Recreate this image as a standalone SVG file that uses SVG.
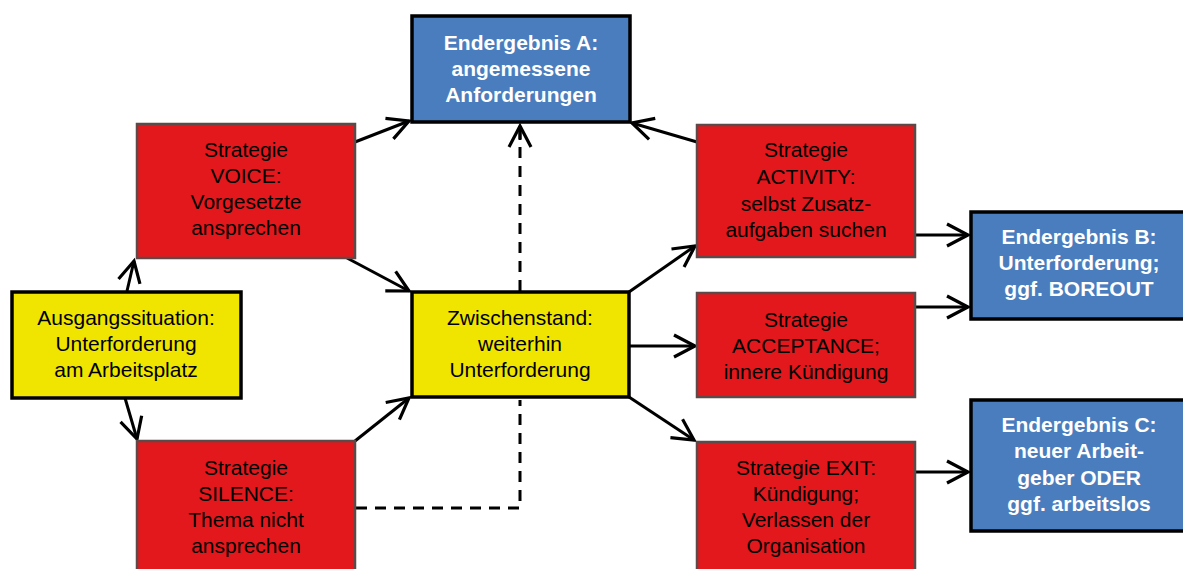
<svg xmlns="http://www.w3.org/2000/svg" width="1183" height="569" viewBox="0 0 1183 569">
<defs>
<style>
.red{fill:#e3181c;stroke:#5e4848;stroke-width:2.5}
.yel{fill:#f0e500;stroke:#000;stroke-width:3.5}
.blu{fill:#4a7dbd;stroke:#000;stroke-width:3.5}
.t{font-family:"Liberation Sans",Arial,sans-serif;font-size:21px;text-anchor:middle;fill:#000}
.tb{font-family:"Liberation Sans",Arial,sans-serif;font-size:21px;font-weight:bold;text-anchor:middle;fill:#fff}
.c{fill:none;stroke:#000;stroke-width:3}
.d{fill:none;stroke:#000;stroke-width:3;stroke-dasharray:11,8}
</style>
<marker id="ah" markerUnits="userSpaceOnUse" markerWidth="30" markerHeight="30" viewBox="-24 -15 30 30" refX="0" refY="0" orient="auto">
<path d="M-21,-11 L0,0 L-21,11" fill="none" stroke="#000" stroke-width="3.2" stroke-linejoin="miter"/>
</marker>
</defs>
<rect width="1183" height="569" fill="#fff"/>
<g id="connectors">
<path class="c" d="M127,291 L134,261" marker-end="url(#ah)"/>
<path class="c" d="M125,398 L137,439" marker-end="url(#ah)"/>
<path class="c" d="M355,142 L409,121" marker-end="url(#ah)"/>
<path class="c" d="M347,258 L409,291" marker-end="url(#ah)"/>
<path class="c" d="M355,441 L409,398" marker-end="url(#ah)"/>
<path class="d" d="M356,508 L520,508 L520,400"/>
<path class="d" d="M520,291 L520,128"/>
<path class="c" d="M520,140 L520,126" marker-end="url(#ah)"/>
<path class="c" d="M697,142 L632,123" marker-end="url(#ah)"/>
<path class="c" d="M629,292 L695,246" marker-end="url(#ah)"/>
<path class="c" d="M629,346 L695,346" marker-end="url(#ah)"/>
<path class="c" d="M629,397 L694,440" marker-end="url(#ah)"/>
<path class="c" d="M915,235 L968,235" marker-end="url(#ah)"/>
<path class="c" d="M915,307 L968,307" marker-end="url(#ah)"/>
<path class="c" d="M915,472 L968,472" marker-end="url(#ah)"/>
</g>
<g id="endA">
<rect class="blu" x="412" y="16" width="218" height="106"/>
<text class="tb" x="521" y="50">Endergebnis A:</text>
<text class="tb" x="521" y="76">angemessene</text>
<text class="tb" x="521" y="102">Anforderungen</text>
</g>
<g id="voice">
<rect class="red" x="137" y="124" width="218" height="134"/>
<text class="t" x="246" y="157">Strategie</text>
<text class="t" x="246" y="183">VOICE:</text>
<text class="t" x="246" y="209">Vorgesetzte</text>
<text class="t" x="246" y="235">ansprechen</text>
</g>
<g id="start">
<rect class="yel" x="12" y="292" width="229" height="106"/>
<text class="t" x="126" y="325">Ausgangssituation:</text>
<text class="t" x="126" y="351">Unterforderung</text>
<text class="t" x="126" y="377">am Arbeitsplatz</text>
</g>
<g id="silence">
<rect class="red" x="137" y="441" width="218" height="140"/>
<text class="t" x="246" y="475">Strategie</text>
<text class="t" x="246" y="501">SILENCE:</text>
<text class="t" x="246" y="527">Thema nicht</text>
<text class="t" x="246" y="553">ansprechen</text>
</g>
<g id="zwischen">
<rect class="yel" x="412" y="292" width="217" height="105"/>
<text class="t" x="520" y="325">Zwischenstand:</text>
<text class="t" x="520" y="351">weiterhin</text>
<text class="t" x="520" y="377">Unterforderung</text>
</g>
<g id="activity">
<rect class="red" x="697" y="125" width="218" height="132"/>
<text class="t" x="806" y="157">Strategie</text>
<text class="t" x="806" y="184">ACTIVITY:</text>
<text class="t" x="806" y="211">selbst Zusatz-</text>
<text class="t" x="806" y="237">aufgaben suchen</text>
</g>
<g id="acceptance">
<rect class="red" x="697" y="293" width="218" height="104"/>
<text class="t" x="806" y="327">Strategie</text>
<text class="t" x="806" y="353">ACCEPTANCE;</text>
<text class="t" x="806" y="379">innere Kündigung</text>
</g>
<g id="exit">
<rect class="red" x="697" y="442" width="218" height="140"/>
<text class="t" x="806" y="475">Strategie EXIT:</text>
<text class="t" x="806" y="501">Kündigung;</text>
<text class="t" x="806" y="527">Verlassen der</text>
<text class="t" x="806" y="553">Organisation</text>
</g>
<g id="endB">
<rect class="blu" x="971" y="212" width="222" height="107"/>
<text class="tb" x="1079" y="244">Endergebnis B:</text>
<text class="tb" x="1079" y="270">Unterforderung;</text>
<text class="tb" x="1079" y="296">ggf. BOREOUT</text>
</g>
<g id="endC">
<rect class="blu" x="971" y="400" width="222" height="131"/>
<text class="tb" x="1079" y="432">Endergebnis C:</text>
<text class="tb" x="1079" y="458">neuer Arbeit-</text>
<text class="tb" x="1079" y="485">geber ODER</text>
<text class="tb" x="1079" y="511">ggf. arbeitslos</text>
</g>
</svg>
